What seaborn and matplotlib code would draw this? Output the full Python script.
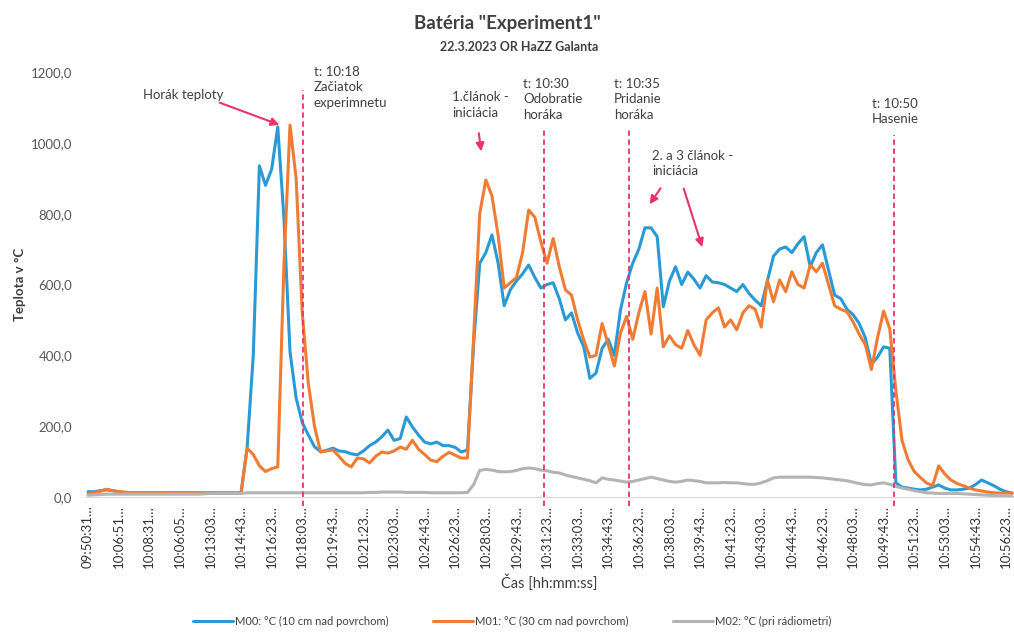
import numpy as np
import pandas as pd
import seaborn as sns
import matplotlib
matplotlib.use("Agg")
import matplotlib.pyplot as plt

# tick labels (one label every 5 samples)
tick_labels = ['09:50:31', '10:06:51', '10:08:31', '10:06:05', '10:13:03', '10:14:43',
               '10:16:23', '10:18:03', '10:19:43', '10:21:23', '10:23:03', '10:24:43',
               '10:26:23', '10:28:03', '10:29:43', '10:31:23', '10:33:03', '10:34:43',
               '10:36:23', '10:38:03', '10:39:43', '10:41:23', '10:43:03', '10:44:43',
               '10:46:23', '10:48:03', '10:49:43', '10:51:23', '10:53:03', '10:54:43',
               '10:56:23']

m00 = [15, 15, 18, 20, 18, 15, 12, 12, 12, 12,
       12, 12, 12, 12, 12, 12, 12, 12, 12, 12,
       12, 12, 12, 12, 12, 12, 140, 400, 935, 880,
       925, 1045, 790, 410, 280, 210, 175, 142, 128, 132,
       138, 130, 128, 122, 119, 130, 145, 155, 170, 189,
       160, 165, 226, 198, 175, 155, 150, 155, 145, 145,
       140, 127, 133, 430, 660, 690, 740, 661, 540, 585,
       610, 630, 655, 620, 590, 600, 605, 560, 500, 520,
       463, 424, 335, 350, 420, 445, 400, 528, 605, 660,
       700, 760, 760, 735, 537, 610, 650, 600, 635, 615,
       590, 625, 607, 605, 600, 590, 580, 600, 575, 556,
       540, 610, 680, 700, 706, 690, 715, 735, 650, 690,
       712, 640, 570, 560, 530, 515, 490, 450, 375, 395,
       424, 420, 40, 28, 25, 22, 20, 22, 28, 34,
       25, 20, 20, 22, 25, 35, 48, 40, 32, 22,
       15, 11]

m01 = [8, 12, 16, 22, 18, 15, 14, 12, 12, 12,
       12, 12, 12, 11, 11, 11, 11, 11, 10, 10,
       10, 10, 10, 10, 10, 10, 138, 120, 88, 72,
       80, 85, 650, 1050, 900, 520, 320, 200, 127, 130,
       133, 115, 95, 85, 110, 108, 96, 115, 127, 124,
       130, 141, 135, 160, 135, 120, 104, 100, 115, 126,
       118, 110, 110, 450, 800, 895, 850, 740, 590, 605,
       620, 689, 810, 790, 720, 660, 730, 650, 585, 570,
       500, 443, 395, 400, 490, 430, 370, 463, 510, 445,
       520, 580, 460, 590, 424, 455, 430, 420, 470, 430,
       400, 500, 520, 534, 480, 500, 472, 520, 540, 530,
       480, 613, 551, 613, 580, 636, 600, 590, 655, 636,
       660, 600, 540, 530, 523, 495, 460, 430, 360, 450,
       525, 475, 300, 160, 105, 72, 55, 40, 32, 88,
       65, 48, 38, 32, 25, 20, 17, 14, 12, 11,
       11, 11]

m02 = [5, 6, 7, 8, 8, 8, 8, 8, 8, 8,
       8, 8, 8, 8, 8, 8, 8, 8, 8, 9,
       10, 10, 10, 10, 10, 10, 12, 12, 12, 12,
       12, 12, 12, 12, 12, 12, 12, 12, 12, 12,
       12, 12, 12, 12, 12, 12, 13, 13, 14, 14,
       14, 14, 13, 13, 13, 13, 12, 12, 12, 12,
       12, 12, 13, 35, 75, 78, 76, 72, 71, 72,
       75, 80, 82, 80, 76, 74, 70, 68, 62, 58,
       54, 50, 46, 40, 54, 50, 48, 45, 42, 44,
       48, 52, 56, 52, 48, 44, 42, 44, 48, 46,
       44, 40, 40, 40, 41, 40, 40, 38, 36, 36,
       40, 46, 54, 56, 56, 56, 56, 56, 56, 55,
       54, 52, 50, 48, 46, 42, 38, 35, 34, 38,
       40, 36, 30, 25, 22, 18, 15, 12, 11, 10,
       10, 10, 10, 9, 8, 7, 6, 5, 4, 3,
       2, 1]

names = ['M00: °C (10 cm nad povrchom)', 'M01: °C (30 cm nad povrchom)', 'M02: °C (pri rádiometri)']
colors = ['#2a9ad6', '#f07c34', '#b3b3b3']

# event markers (sample position, top of dashed line)
event_pos = [35.1, 74.5, 88.4, 131.7]
event_top = [1150, 1037, 1037, 1023]

n = len(m00)
df = pd.DataFrame({'idx': np.tile(np.arange(n), 3),
                   'val': m00 + m01 + m02,
                   'serie': np.repeat(names, n)})

sns.set_style('white')
plt.rcParams['font.family'] = ['Lato', 'DejaVu Sans']

fig = plt.figure(figsize=(10.14, 6.32), dpi=100)
ax = fig.add_axes([0.0838, 0.2136, 0.9162, 0.6725])

sns.lineplot(data=df, x='idx', y='val', hue='serie', palette=dict(zip(names, colors)),
             linewidth=2.2, ax=ax)
handles, labels = ax.get_legend_handles_labels()
ax.get_legend().remove()

ax.set_xlim(-0.5, 151.3)
ax.set_ylim(0, 1200)
ax.set_yticks(np.arange(0, 1201, 200))
ax.set_yticklabels([f'{v},0' for v in range(0, 1201, 200)], fontsize=9.5, color='#595959')
ax.set_xticks(np.arange(0, n, 5))
ax.set_xticklabels([t + '…' for t in tick_labels], rotation=90, fontsize=9.5, color='#333333')
ax.tick_params(length=0, pad=6)
ax.tick_params(axis='y', pad=9)
for s in ['top', 'right', 'left']:
    ax.spines[s].set_visible(False)
ax.spines['bottom'].set_color('#d9d9d9')

ax.set_xlabel('Čas [hh:mm:ss]', fontsize=10.5, color='#404040', labelpad=4)
ax.set_ylabel('Teplota v °C', fontsize=9.5, fontweight='bold', color='#404040', labelpad=4)

red = '#e8336b'
for xp, yt in zip(event_pos, event_top):
    ax.vlines(xp, -25, yt, colors=red, linestyles=(0, (3, 2)), linewidth=1.3, clip_on=False)

txt = dict(fontsize=9.5, color='#404040', va='top', ha='left', linespacing=1.35)
ax.text(36.9, 1218, 't: 10:18\nZačiatok\nexperimnetu', **txt)
ax.text(59.5, 1145, '1.článok -\niniciácia', **txt)
ax.text(71.1, 1184, 't: 10:30\nOdobratie\nhoráka', **txt)
ax.text(85.9, 1184, 't: 10:35\nPridanie\nhoráka', **txt)
ax.text(92.2, 980, '2. a 3 článok -\niniciácia', **txt)
ax.text(128.1, 1127, 't: 10:50\nHasenie', **txt)
ax.text(15.5, 1136, 'Horák teploty', fontsize=9.5, color='#404040', va='center', ha='center')

arr = dict(arrowstyle='-|>', color=red, lw=1.5, mutation_scale=12)
ax.annotate('', xy=(31.7, 1048), xytext=(21.1, 1116), arrowprops=arr)
ax.annotate('', xy=(64.3, 968), xytext=(63.8, 1035), arrowprops=arr)
ax.annotate('', xy=(91.5, 820), xytext=(93.8, 878), arrowprops=arr)
ax.annotate('', xy=(100.5, 698), xytext=(97.2, 878), arrowprops=arr)

fig.text(0.5, 1 - 23 / 632, 'Batéria "Experiment1"', ha='center', va='center',
         fontsize=13.5, fontweight='bold', color='#404040')
fig.text(0.512, 1 - 47 / 632, '22.3.2023 OR HaZZ Galanta', ha='center', va='center',
         fontsize=9, fontweight='bold', color='#404040')

fig.legend(handles, labels, loc='center', bbox_to_anchor=(0.505, 1 - 621 / 632), ncol=3,
           frameon=False, fontsize=8, handlelength=3.6, columnspacing=4, handletextpad=0.2,
           labelcolor='#404040')

fig.savefig('out.png', dpi=100)
